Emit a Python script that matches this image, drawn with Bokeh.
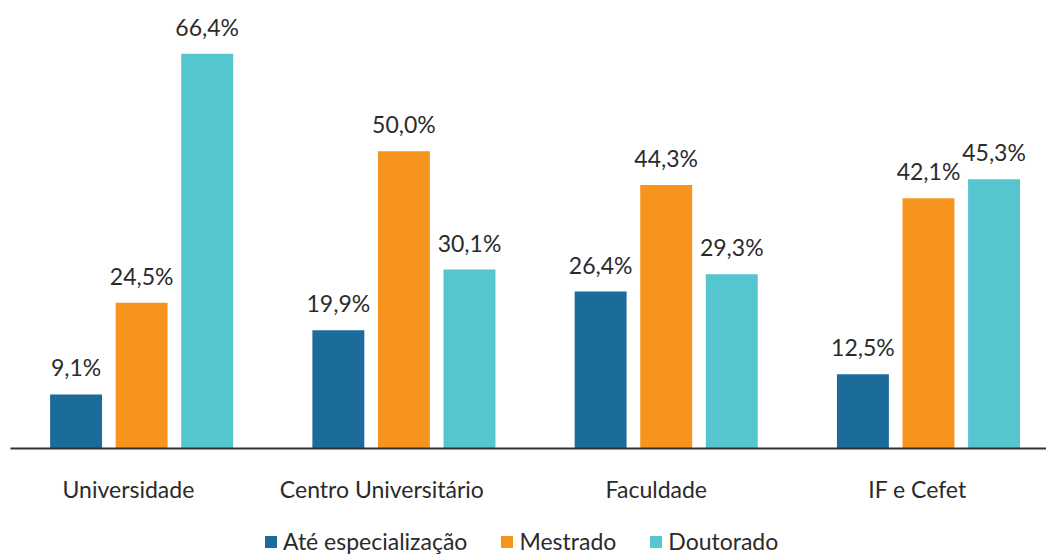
from bokeh.plotting import figure
from bokeh.layouts import column
from bokeh.models import Range1d, FixedTicker, Legend, LegendItem, ColumnDataSource
from bokeh.core.properties import value
from bokeh.embed import file_html
from bokeh.resources import INLINE

categories = ["Universidade", "Centro Universitário", "Faculdade", "IF e Cefet"]
series = ["Até especialização", "Mestrado", "Doutorado"]
ate = [9.1, 19.9, 26.4, 12.5]
mestrado = [24.5, 50.0, 44.3, 42.1]
doutorado = [66.4, 30.1, 29.3, 45.3]
colors = ["#1b6b9b", "#f7941d", "#55c5cf"]

FONT = "Lato"
TXT = "#2b2b2b"
FS = "23px"

p = figure(width=1046, height=510,
           x_range=Range1d(-0.5, 3.45), y_range=Range1d(0, 74),
           output_backend="svg", toolbar_location=None,
           min_border_left=10, min_border_right=0, min_border_top=8,
           min_border_bottom=62, outline_line_color=None)

offsets = [-0.25, 0.0, 0.25]
for vals, off, col in zip([ate, mestrado, doutorado], offsets, colors):
    xs = [i + off for i in range(len(categories))]
    labels = [f"{v:.1f}".replace(".", ",") + "%" for v in vals]
    src = ColumnDataSource(dict(x=xs, top=vals, label=labels))
    p.vbar(x="x", top="top", width=0.198, bottom=0, source=src,
           fill_color=col, line_color=None)
    p.text(x="x", y="top", text="label", source=src,
           text_align="center", text_baseline="bottom", y_offset=-13,
           text_font=value(FONT), text_font_size=FS, text_color=TXT)

p.xgrid.visible = False
p.ygrid.visible = False
p.yaxis.visible = False
xa = p.xaxis[0]
# category labels sit slightly left of the group centre in the reference
tick_pos = [round(i - 0.0042 * len(c), 4) for i, c in enumerate(categories)]
xa.ticker = FixedTicker(ticks=tick_pos)
xa.major_label_overrides = {t: c for t, c in zip(tick_pos, categories)}
xa.axis_line_color = "#333333"
xa.axis_line_width = 2
xa.major_tick_line_color = None
xa.minor_tick_line_color = None
xa.major_tick_out = 0
xa.major_tick_in = 0
xa.major_label_standoff = 26
xa.major_label_text_font = FONT
xa.major_label_text_font_size = FS
xa.major_label_text_color = TXT

# legend strip
lf = figure(width=1046, height=45, x_range=Range1d(0, 1), y_range=Range1d(0, 1),
            output_backend="svg", toolbar_location=None,
            min_border_left=0, min_border_right=0, min_border_top=0,
            min_border_bottom=0, outline_line_color=None)
lf.xaxis.visible = False
lf.yaxis.visible = False
lf.xgrid.visible = False
lf.ygrid.visible = False
leg_renderers = []
for col in colors:
    # zero-size swatch renderer; only its legend entry shows
    leg_renderers.append(lf.vbar(x=[0.5], top=[0], bottom=[0], width=0,
                                 fill_color=col, line_color=None))
legend = Legend(items=[LegendItem(label=s, renderers=[r]) for s, r in zip(series, leg_renderers)],
                orientation="horizontal", location=(253, 0),
                glyph_width=15, glyph_height=15, label_standoff=5, spacing=32,
                padding=0, margin=0, border_line_color=None,
                background_fill_alpha=0,
                label_text_font=FONT, label_text_font_size=FS,
                label_text_color=TXT)
lf.add_layout(legend, "center")

layout = column(p, lf, spacing=0)
open("out.html", "w").write(file_html(layout, INLINE))
